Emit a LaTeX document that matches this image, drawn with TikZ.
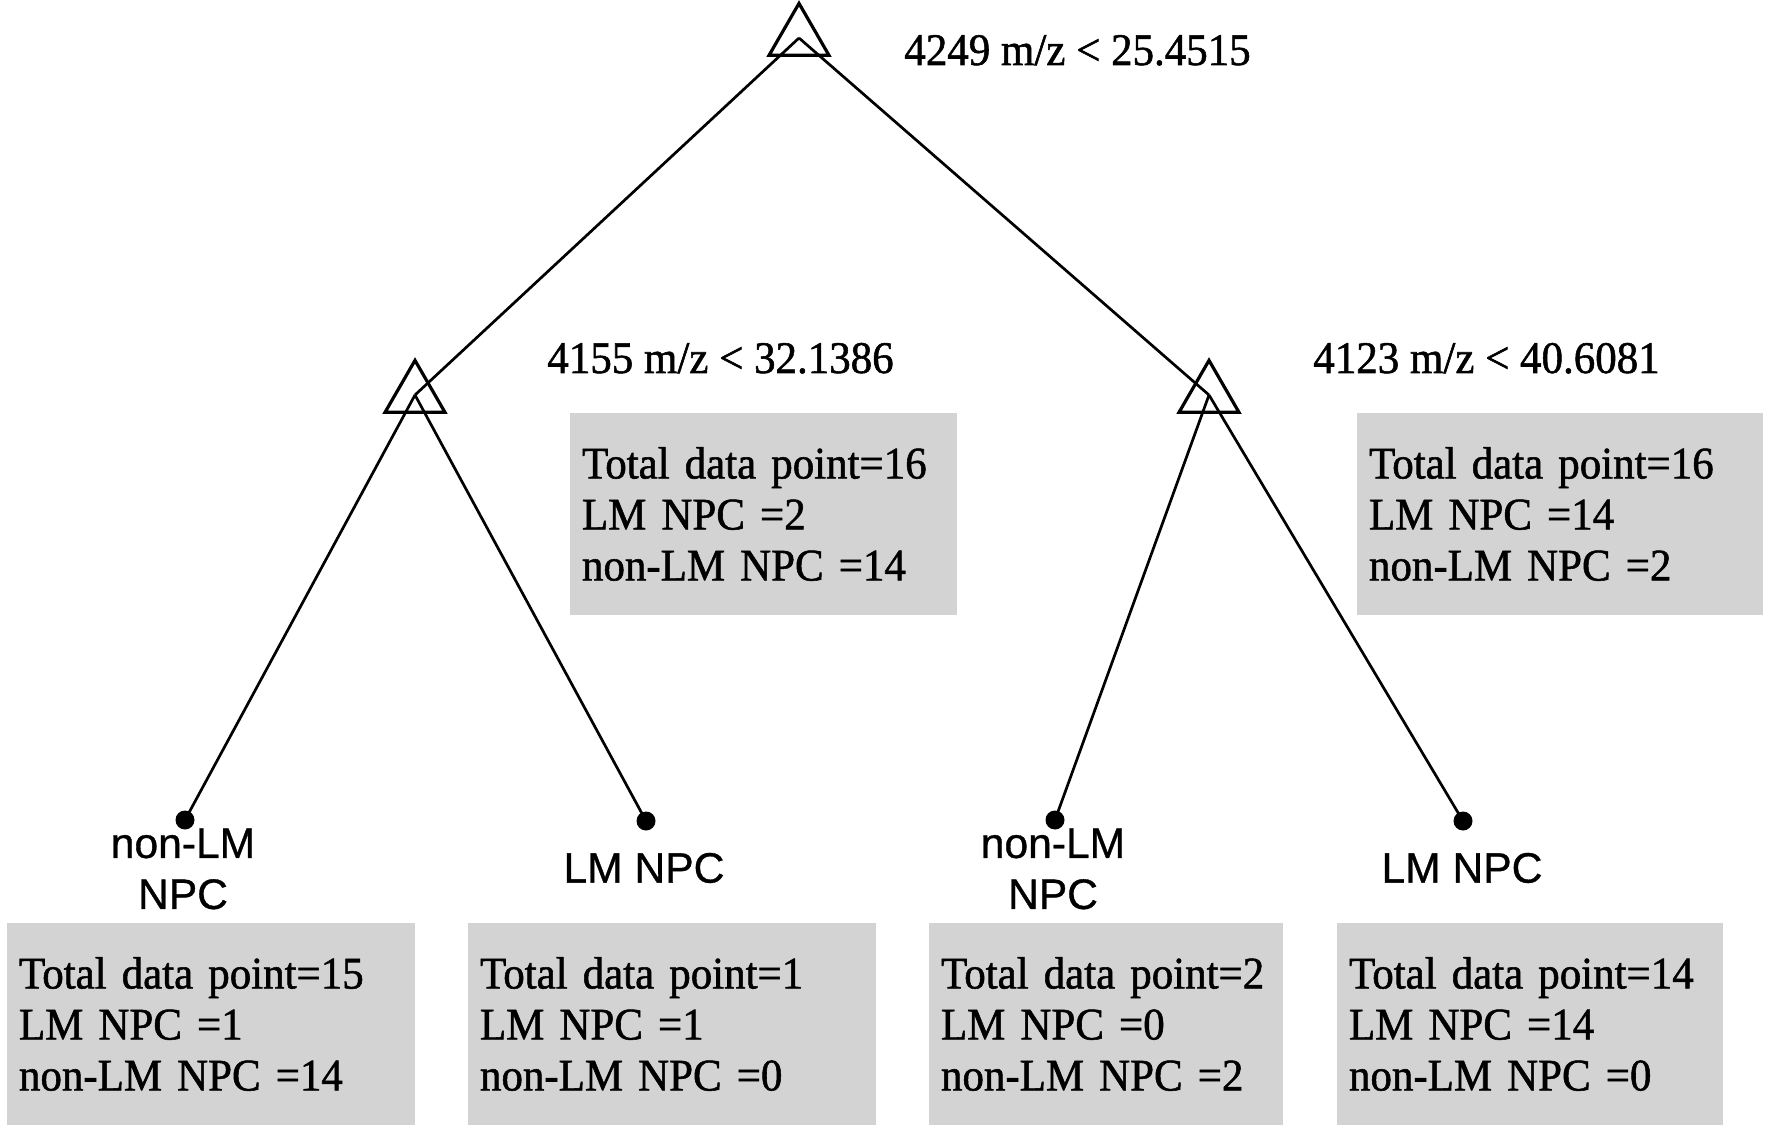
\documentclass[tikz,border=0pt]{standalone}
\usepackage{fontspec}
\setmainfont{Liberation Serif}
\setsansfont{Liberation Sans}
\newfontfamily\rulefont{Liberation Serif}[FakeStretch=0.95, FakeBold=1.2]
\newfontfamily\labelfont{Liberation Sans}[FakeBold=0.8]
\usetikzlibrary{shapes.geometric}
\definecolor{boxgray}{RGB}{211,211,211}
\tikzset{
  splitnode/.style={draw, line width=1.6pt, regular polygon, regular polygon sides=3,
    minimum size=34.6pt, inner sep=0pt, outer sep=0pt},
  edge/.style={line width=1.35pt},
  leafdot/.style={circle, fill=black, minimum size=9.5pt, inner sep=0pt},
  rule/.style={anchor=base west, inner sep=0pt, font=\rulefont\fontsize{22.6}{25.5}\selectfont},
  infobox/.style={fill=boxgray, align=left, inner xsep=6pt, inner ysep=0pt,
    minimum height=101pt, font=\rulefont\fontsize{22.6}{25.5}\selectfont},
  leaflabel/.style={align=center, inner sep=0pt, font=\labelfont\fontsize{21.3}{25.5}\selectfont}
}
\begin{document}
\begin{tikzpicture}[x=0.5pt, y=-0.5pt]
\useasboundingbox (0,0) rectangle (1772,1128);
% split nodes
\node[splitnode] (t0) at (799,38) {};
\node[splitnode] (t1) at (415,395) {};
\node[splitnode] (t2) at (1209,395) {};
% leaf dots
\node[leafdot] (d1) at (185,820) {};
\node[leafdot] (d2) at (646,821) {};
\node[leafdot] (d3) at (1055,820) {};
\node[leafdot] (d4) at (1463,821) {};
% connectors
\draw[edge] (t0.center) -- (t1.center);
\draw[edge] (t0.center) -- (t2.center);
\draw[edge] (t1.center) -- (d1.center);
\draw[edge] (t1.center) -- (d2.center);
\draw[edge] (t2.center) -- (d3.center);
\draw[edge] (t2.center) -- (d4.center);
% rules
\node[rule] (r0) at (904,65) {4249 m/z < 25.4515};
\node[rule] (r1) at (547,373) {4155 m/z < 32.1386};
\node[rule] (r2) at (1313,373) {4123 m/z < 40.6081};
% info boxes
\node[infobox, text width=181.5pt] (b1) at (763.5,514) {Total data point=16\\LM NPC =2\\non-LM NPC =14};
\node[infobox, text width=191pt] (b2) at (1560,514) {Total data point=16\\LM NPC =14\\non-LM NPC =2};
\node[infobox, text width=192pt] (l1) at (211,1024) {Total data point=15\\LM NPC =1\\non-LM NPC =14};
\node[infobox, text width=192pt] (l2) at (672,1024) {Total data point=1\\LM NPC =1\\non-LM NPC =0};
\node[infobox, text width=165pt] (l3) at (1106,1024) {Total data point=2\\LM NPC =0\\non-LM NPC =2};
\node[infobox, text width=181pt] (l4) at (1530,1024) {Total data point=14\\LM NPC =14\\non-LM NPC =0};
% leaf labels
\node[leaflabel] (n1) at (183,869) {non-LM\\NPC};
\node[leaflabel] (n2) at (644,868) {LM NPC};
\node[leaflabel] (n3) at (1053,869) {non-LM\\NPC};
\node[leaflabel] (n4) at (1462,868) {LM NPC};
\end{tikzpicture}
\end{document}
